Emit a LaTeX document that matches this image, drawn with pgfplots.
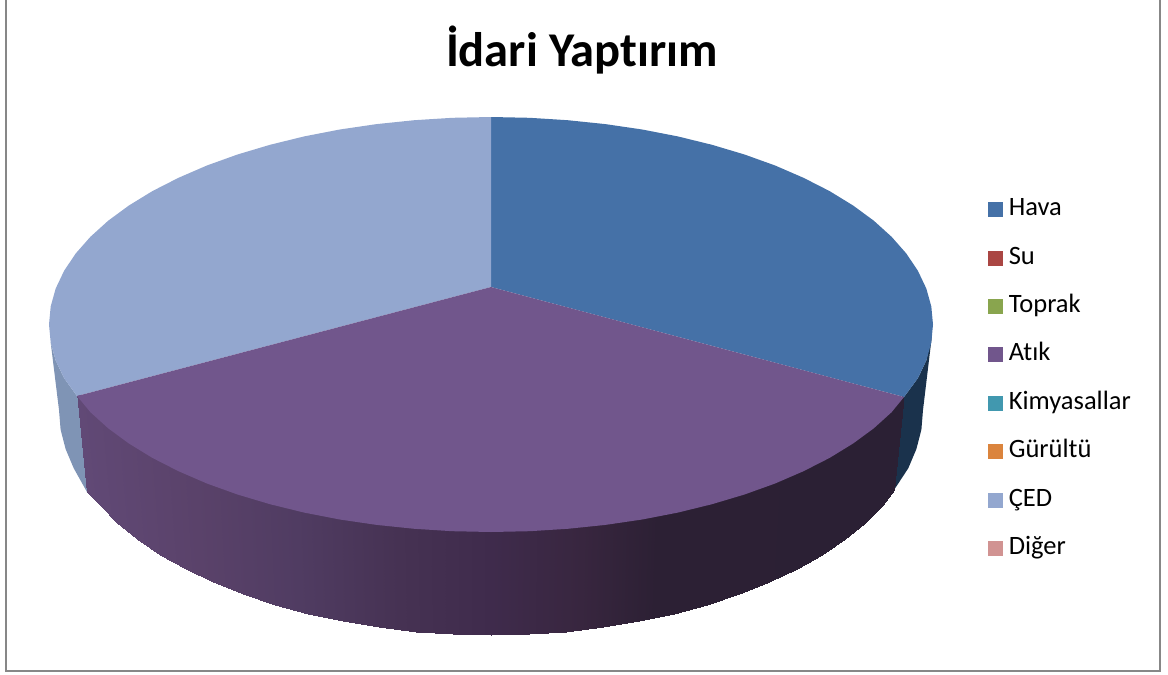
\documentclass[border=0pt]{standalone}
\usepackage{fontspec}
\setmainfont{Carlito}[Ligatures={NoCommon,TeX}]
\usepackage{pgfplots}
\pgfplotsset{compat=1.18}
\definecolor{cHava}{HTML}{4571A7}
\definecolor{cSu}{HTML}{AA4643}
\definecolor{cToprak}{HTML}{89A54E}
\definecolor{cAtik}{HTML}{71568C}
\definecolor{cKim}{HTML}{4198AF}
\definecolor{cGur}{HTML}{DB843D}
\definecolor{cCed}{HTML}{93A7CF}
\definecolor{cDig}{HTML}{D19392}
\definecolor{cHavaS}{HTML}{1A324C}
\definecolor{cCedS}{HTML}{7F94B5}
\begin{document}
\begin{tikzpicture}
\useasboundingbox (0,0) rectangle (1168pt,675pt);
\begin{axis}[
  at={(0,0)}, anchor=south west,
  scale only axis, width=1168pt, height=675pt,
  xmin=0, xmax=1168, ymin=0, ymax=675, y dir=reverse,
  hide axis, clip=false,
  colormap={atik}{
    rgb255(0pt)=(97,73,118);
    rgb255(113pt)=(90,66,106);
    rgb255(213pt)=(80,60,98);
    rgb255(313pt)=(70,50,83);
    rgb255(404pt)=(63,43,76);
    rgb255(493pt)=(56,38,63);
    rgb255(568pt)=(44,32,52);
    rgb255(807pt)=(43,32,52)},
  legend style={draw=none, fill=none, at={(axis cs:988,183)}, anchor=north west,
    font=\fontsize{26.5}{26.5}\selectfont, inner sep=0pt,
    row sep=0pt, column sep=6pt,
    nodes={inner sep=0pt, text height=32.4pt, text depth=16pt, anchor=base west}},
  legend cell align=left,
]
% frame (the reference shows no line along the top)
\addplot[forget plot, draw=black!47, line width=2.6pt] coordinates {(1160,0) (1160,671) (6,671) (6,0)};
% side: CED
\addplot[forget plot, fill=cCedS, draw=none] coordinates {
 (50.7,342.6) (55.7,360.5) (64.1,378.2) (77,396) (95,396) (100,490) (87,492) (73.7,468.2) (65.6,449) (60.6,429.6) (59,410)} --cycle;
% side: Hava
\addplot[forget plot, fill=cHavaS, draw=none] coordinates {
 (932,335) (926.3,360.5) (917.9,378.2) (904,397) (886,397) (882,490) (894,490) (908.3,468.2) (916.4,449) (921.4,429.6) (923,410)} --cycle;
% side: Atik
\addplot[forget plot, surf, shader=interp, mesh/rows=2, mesh/cols=29, point meta=explicit]
 table[meta=c] {
x y c
904 394 894
891.6 409 882
873.8 425 865
853.1 440 845
829.6 455 822
803.5 468 797
775.1 480 769
744.5 491 739
712 501 707
677.8 509 674
642.2 516 639
605.4 522 603
567.7 526 566
529.5 528 529
491 529 491
452.5 528 453
414.3 526 416
376.6 522 379
339.8 516 343
304.2 509 308
270 501 275
237.5 491 243
206.9 480 213
178.5 468 186
152.4 455 160
128.9 440 137
108.2 425 117
90.4 409 100
77 393 87
894 490 894
882.5 505.1 882
865.1 522.5 865
844.9 539.1 845
821.9 554.6 822
796.5 569.1 797
768.7 582.4 769
738.8 594.3 739
707 604.9 707
673.6 613.9 674
638.7 621.4 639
602.8 627.3 603
566 631.6 566
528.7 634.1 529
491 635 491
453.3 634.1 453
416 631.6 416
379.2 627.3 379
343.3 621.4 343
308.4 613.9 308
275 604.9 275
243.2 594.3 243
213.3 582.4 213
185.5 569.1 186
160.1 554.6 160
137.1 539.1 137
116.9 522.5 117
99.5 505.1 100
87 492 87
};
% top: Hava
\addplot[forget plot, fill=cHava, draw=none] coordinates {
 (491,287) (491,117) (529.5,117.8) (567.7,120.2) (605.4,124.1) (642.2,129.5) (677.8,136.4) (712,144.8)
 (744.5,154.5) (775.1,165.5) (803.5,177.8) (829.6,191.1) (853.1,205.5) (873.8,220.7) (891.6,236.8)
 (906.3,253.5) (917.9,270.8) (926.3,288.5) (931.3,306.4) (933,324.5) (931.3,342.6) (926.3,360.5)
 (917.9,378.2) (904,397)} --cycle;
% top: CED
\addplot[forget plot, fill=cCed, draw=none] coordinates {
 (491,287) (491,117) (452.5,117.8) (414.3,120.2) (376.6,124.1) (339.8,129.5) (304.2,136.4) (270,144.8)
 (237.5,154.5) (206.9,165.5) (178.5,177.8) (152.4,191.1) (128.9,205.5) (108.2,220.7) (90.4,236.8)
 (75.7,253.5) (64.1,270.8) (55.7,288.5) (50.7,306.4) (49,324.5) (50.7,342.6) (55.7,360.5)
 (64.1,378.2) (77,396)} --cycle;
% top: Atik
\addplot[forget plot, fill=cAtik, draw=none] coordinates {
 (491,287) (904,397) (891.6,412.2) (873.8,428.3) (853.1,443.5) (829.6,457.9) (803.5,471.2) (775.1,483.5)
 (744.5,494.5) (712,504.2) (677.8,512.6) (642.2,519.5) (605.4,524.9) (567.7,528.8) (529.5,531.2) (491,532)
 (452.5,531.2) (414.3,528.8) (376.6,524.9) (339.8,519.5) (304.2,512.6) (270,504.2) (237.5,494.5)
 (206.9,483.5) (178.5,471.2) (152.4,457.9) (128.9,443.5) (108.2,428.3) (90.4,412.2) (77,396)} --cycle;
% legend
\pgfplotsset{legend image code/.code={\fill[draw=none,#1] (0pt,-1.5pt) rectangle (14.6pt,13.5pt);}}
\addlegendimage{fill=cHava}\addlegendentry{Hava}
\addlegendimage{fill=cSu}\addlegendentry{Su}
\addlegendimage{fill=cToprak}\addlegendentry{Toprak}
\addlegendimage{fill=cAtik}\addlegendentry{Atık}
\addlegendimage{fill=cKim}\addlegendentry{Kimyasallar}
\addlegendimage{fill=cGur}\addlegendentry{Gürültü}
\addlegendimage{fill=cCed}\addlegendentry{ÇED}
\addlegendimage{fill=cDig}\addlegendentry{Diğer}
\node[font=\fontsize{48.5}{48.5}\selectfont\bfseries, anchor=center] at (axis cs:582,50) {İdari Yaptırım};
\end{axis}
\end{tikzpicture}
\end{document}
